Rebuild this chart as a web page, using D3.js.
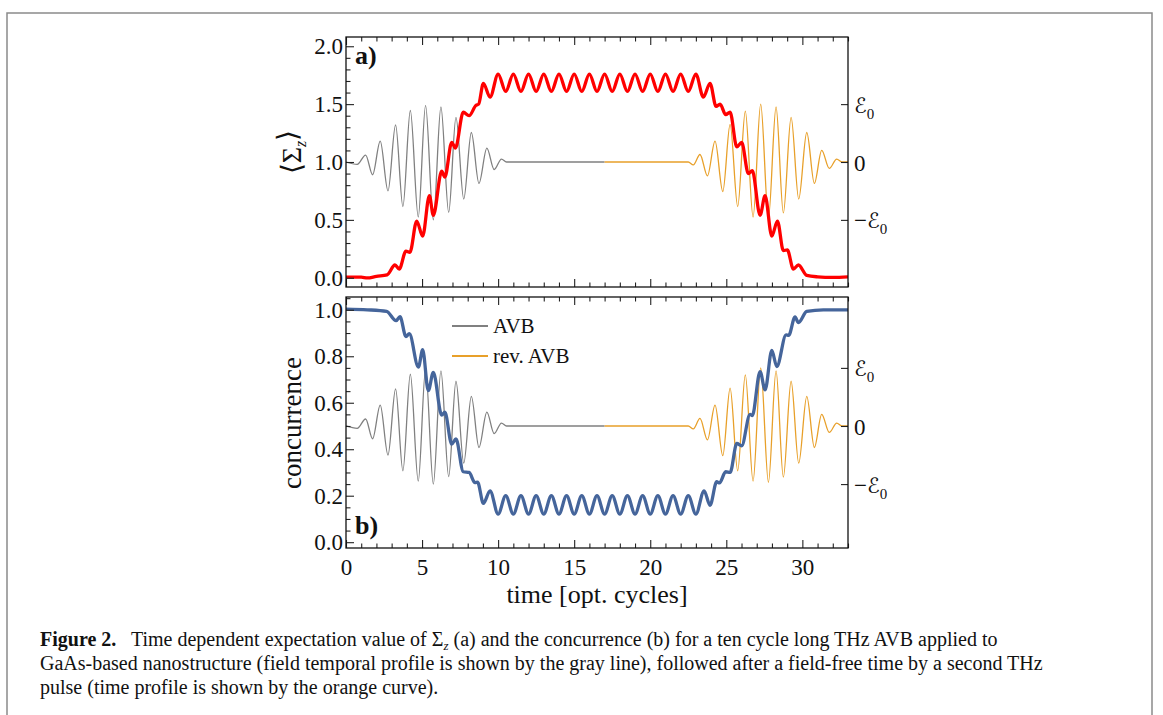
<!DOCTYPE html>
<html>
<head>
<meta charset="utf-8">
<script src="https://cdn.jsdelivr.net/npm/d3@7/dist/d3.min.js"></script>
<style>
  body { margin: 0; background: #fff; }
  svg text { font-family: "Liberation Serif", "DejaVu Serif", serif; fill: #111; }
</style>
</head>
<body>
<div id="chart"></div>
<script>
// time axis (optical cycles)
var timeTicks = [0, 5, 10, 15, 20, 25, 30];

// panel a) <Sigma_z>
var sigmaT = [0, 1.0, 1.4, 2.0, 2.7, 3.22, 3.5, 3.94, 4.2, 4.65, 5.04, 5.48, 5.74, 6.29, 6.5, 6.95, 7.19, 7.71, 8.09, 8.55, 8.72, 9.03, 9.47,
  10, 10.5, 11, 11.5, 12, 12.5, 13, 13.5, 14, 14.5, 15, 15.5, 16, 16.5, 17, 17.5, 18, 18.5, 19, 19.5, 20, 20.5, 21, 21.5, 22, 22.5, 23,
  23.49, 23.93, 24.33, 24.59, 24.96, 25.25, 25.69, 26.01, 26.45, 26.71, 27.22, 27.55, 27.99, 28.36, 28.75, 29.01, 29.41, 29.74, 30.29, 31.0, 32.0, 33.0];
var sigmaV = [0.005, 0.005, -0.002, 0.012, 0.025, 0.11, 0.075, 0.23, 0.22, 0.49, 0.36, 0.71, 0.54, 0.92, 0.87, 1.17, 1.12, 1.43, 1.40, 1.49, 1.50, 1.68, 1.56,
  1.76, 1.61, 1.76, 1.61, 1.76, 1.61, 1.76, 1.61, 1.76, 1.61, 1.76, 1.61, 1.76, 1.61, 1.76, 1.61, 1.76, 1.61, 1.76, 1.61, 1.76, 1.61, 1.76, 1.61, 1.76, 1.61, 1.76,
  1.56, 1.68, 1.48, 1.50, 1.41, 1.43, 1.13, 1.17, 0.90, 0.925, 0.54, 0.71, 0.36, 0.49, 0.235, 0.24, 0.075, 0.11, 0.02, 0.008, 0.003, 0.008];

// panel b) concurrence
var concT = [0, 1.4, 2.67, 3.29, 3.55, 3.94, 4.16, 4.76, 5.04, 5.41, 5.74, 6.29, 6.5, 6.95, 7.23, 7.71, 8.09, 8.48, 8.65, 9.03, 9.47,
  10, 10.5, 11, 11.5, 12, 12.5, 13, 13.5, 14, 14.5, 15, 15.5, 16, 16.5, 17, 17.5, 18, 18.5, 19, 19.5, 20, 20.5, 21, 21.5, 22, 22.5, 23,
  23.54, 23.93, 24.37, 24.55, 24.96, 25.25, 25.69, 26.01, 26.56, 26.71, 27.22, 27.55, 27.99, 28.32, 28.93, 29.1, 29.52, 29.74, 30.29, 31.38, 33];
var concV = [1.003, 1.0, 0.993, 0.953, 0.97, 0.885, 0.897, 0.753, 0.828, 0.652, 0.731, 0.547, 0.559, 0.422, 0.444, 0.303, 0.30, 0.256, 0.258, 0.167, 0.221,
  0.121, 0.20, 0.121, 0.20, 0.121, 0.20, 0.121, 0.20, 0.121, 0.20, 0.121, 0.20, 0.121, 0.20, 0.121, 0.20, 0.121, 0.20, 0.121, 0.20, 0.121, 0.20, 0.121, 0.20, 0.121, 0.20, 0.121,
  0.221, 0.159, 0.26, 0.255, 0.303, 0.30, 0.425, 0.415, 0.55, 0.545, 0.734, 0.655, 0.825, 0.756, 0.892, 0.89, 0.969, 0.945, 0.993, 1.0, 1.0];

// field of the AVB (gray) and reversed AVB (orange), in units of E0
var avbT = [0, 0.74, 1.29, 1.75, 2.25, 2.76, 3.26, 3.74, 4.23, 4.75, 5.23, 5.74, 6.24, 6.75, 7.23, 7.74, 8.24, 8.74, 9.26, 9.74, 10.22, 10.55, 17];
var avbV = [0, -0.04, 0.12, -0.22, 0.36, -0.50, 0.64, -0.77, 0.89, -0.95, 0.98, -1.0, 0.95, -0.87, 0.77, -0.64, 0.51, -0.37, 0.24, -0.13, 0.05, 0, 0];
var revT = [17, 22.5, 22.83, 23.27, 23.76, 24.26, 24.77, 25.25, 25.75, 26.25, 26.76, 27.26, 27.77, 28.27, 28.75, 29.26, 29.76, 30.29, 30.79, 31.27, 31.77, 32.26, 32.6, 33];
var revV = [0, 0, -0.05, 0.13, -0.24, 0.36, -0.51, 0.65, -0.77, 0.88, -0.95, 1.0, -0.97, 0.95, -0.88, 0.77, -0.64, 0.51, -0.37, 0.2, -0.11, 0.05, 0, 0];

var sigmaTicks = [0, 0.5, 1.0, 1.5, 2.0];
var concTicks = [0, 0.2, 0.4, 0.6, 0.8, 1.0];
var fieldTicks = [-1, 0, 1];
var legendNames = ["AVB", "rev. AVB"];

var W = 1163, H = 715;
var left = 346, right = 848;
var panelA = {top: 37, bottom: 287};
var panelB = {top: 297, bottom: 548};

var RED = "#ff0000", BLUE = "#45659b", GRAY = "#808080", ORANGE = "#e8a02a";
var TICKFONT = 23;

function zip(t, v){ return t.map(function(d, i){ return [d, v[i]]; }); }

var svg = d3.select("#chart").append("svg")
  .attr("width", W).attr("height", H);

// page frame
svg.append("rect")
  .attr("x", 7).attr("y", 13).attr("width", 1145).attr("height", 720)
  .attr("fill", "none").attr("stroke", "#8a8a8a").attr("stroke-width", 1.5);

var x = d3.scaleLinear().domain([0, 33]).range([left, right]);
var yA = d3.scaleLinear().domain([-0.08, 2.08]).range([panelA.bottom, panelA.top]);
var yB = d3.scaleLinear().domain([-0.025, 1.055]).range([panelB.bottom, panelB.top]);
var fA = d3.scaleLinear().domain([-1, 1]).range([yA(0.5), yA(1.5)]);
var fB = d3.scaleLinear().domain([-1, 1]).range([yB(0.25), yB(0.75)]);

function drawTicks(g, axis){
  g.call(axis);
  g.select(".domain").remove();
  g.selectAll(".tick line").attr("stroke", "#222").attr("stroke-width", 1.1);
}

function minorValues(lo, hi, step, majors){
  return d3.range(Math.ceil(lo / step) * step, hi, step)
    .filter(function(d){ return majors.every(function(m){ return Math.abs(m - d) > 1e-6; }); });
}

// inward ticks, major + minor, on all four sides except the right
function frame(panel, y, majors, minorStep, showX){
  var g = svg.append("g");
  var minorsX = minorValues(0, 33.5, 1, timeTicks);
  var minorsY = minorValues(y.domain()[0], y.domain()[1], minorStep, majors);

  g.append("g").attr("transform", "translate(0," + panel.bottom + ")")
    .call(drawTicks, d3.axisBottom(x).tickValues(timeTicks).tickSize(-8).tickPadding(11)
      .tickFormat(showX ? d3.format("d") : ""));
  g.append("g").attr("transform", "translate(0," + panel.bottom + ")")
    .call(drawTicks, d3.axisBottom(x).tickValues(minorsX).tickSize(-4.5).tickFormat(""));
  g.append("g").attr("transform", "translate(0," + panel.top + ")")
    .call(drawTicks, d3.axisTop(x).tickValues(timeTicks).tickSize(-8).tickFormat(""));
  g.append("g").attr("transform", "translate(0," + panel.top + ")")
    .call(drawTicks, d3.axisTop(x).tickValues(minorsX).tickSize(-4.5).tickFormat(""));
  g.append("g").attr("transform", "translate(" + left + ",0)")
    .call(drawTicks, d3.axisLeft(y).tickValues(majors).tickSize(-8).tickPadding(3).tickFormat(d3.format(".1f")));
  g.append("g").attr("transform", "translate(" + left + ",0)")
    .call(drawTicks, d3.axisLeft(y).tickValues(minorsY).tickSize(-4.5).tickFormat(""));

  g.selectAll("text").attr("font-size", TICKFONT).attr("font-family", "Liberation Serif").attr("fill", "#111");
}

function rightAxis(f){
  var g = svg.append("g").attr("transform", "translate(" + right + ",0)");
  g.call(drawTicks, d3.axisRight(f).tickValues(fieldTicks).tickSize(-7).tickFormat(""));
  g.selectAll(".tick").each(function(d){
    var t = d3.select(this).append("text")
      .attr("x", 6).attr("dy", "0.35em").attr("font-size", TICKFONT).attr("text-anchor", "start");
    if (d === 0) { t.text("0"); return; }
    if (d < 0) t.append("tspan").text("\u2212");
    t.append("tspan").attr("font-family", "DejaVu Sans").attr("font-size", 21).text("\u2130");
    t.append("tspan").attr("font-size", 15).attr("dy", "0.4em").text("0");
  });
}

function field(f){
  var l = d3.line().curve(d3.curveMonotoneX)
    .x(function(d){ return x(d[0]); }).y(function(d){ return f(d[1]); });
  svg.append("path").datum(zip(avbT, avbV)).attr("d", l)
    .attr("fill", "none").attr("stroke", GRAY).attr("stroke-width", 1.3);
  svg.append("path").datum(zip(revT, revV)).attr("d", l)
    .attr("fill", "none").attr("stroke", ORANGE).attr("stroke-width", 1.3);
}

function curve(tv, vv, y, color, clip){
  var l = d3.line().curve(d3.curveMonotoneX)
    .x(function(d){ return x(d[0]); }).y(function(d){ return y(d[1]); });
  svg.append("path").datum(zip(tv, vv)).attr("d", l)
    .attr("clip-path", "url(#" + clip + ")")
    .attr("fill", "none").attr("stroke", color).attr("stroke-width", 3.3).attr("stroke-linejoin", "round");
}

// clip for the curves
svg.append("clipPath").attr("id", "clipA").append("rect")
  .attr("x", left).attr("y", panelA.top).attr("width", right - left).attr("height", panelA.bottom - panelA.top);
svg.append("clipPath").attr("id", "clipB").append("rect")
  .attr("x", left).attr("y", panelB.top).attr("width", right - left).attr("height", panelB.bottom - panelB.top);

// panel a
field(fA);
curve(sigmaT, sigmaV, yA, RED, "clipA");

// panel b
field(fB);
curve(concT, concV, yB, BLUE, "clipB");

frame(panelA, yA, sigmaTicks, 0.1, false);
frame(panelB, yB, concTicks, 0.05, true);
rightAxis(fA);
rightAxis(fB);

[panelA, panelB].forEach(function(p){
  svg.append("rect").attr("x", left).attr("y", p.top)
    .attr("width", right - left).attr("height", p.bottom - p.top)
    .attr("fill", "none").attr("stroke", "#111").attr("stroke-width", 1.3);
});

// panel letters
svg.append("text").attr("x", 355).attr("y", 64).attr("font-size", 26).attr("font-weight", "bold").text("a)");
svg.append("text").attr("x", 355).attr("y", 534).attr("font-size", 26).attr("font-weight", "bold").text("b)");

// legend
var legY = [326, 356];
var legColors = [GRAY, ORANGE];
legendNames.forEach(function(n, i){
  svg.append("line").attr("x1", 452).attr("x2", 488).attr("y1", legY[i]).attr("y2", legY[i])
    .attr("stroke", legColors[i]).attr("stroke-width", 2);
  svg.append("text").attr("x", 493).attr("y", legY[i]).attr("dy", "0.35em")
    .attr("font-size", 21).text(n);
});

// axis titles
svg.append("text").attr("x", (left + right) / 2).attr("y", 603)
  .attr("text-anchor", "middle").attr("font-size", 26).text("time [opt. cycles]");

var ylabA = svg.append("text").attr("transform", "translate(301,152) rotate(-90)")
  .attr("text-anchor", "middle").attr("font-size", 28);
ylabA.append("tspan").attr("font-family", "DejaVu Sans").attr("font-weight", 200).text("\u27E8");
ylabA.append("tspan").text("\u03A3");
ylabA.append("tspan").attr("font-style", "italic").attr("font-size", 16).attr("dy", "0.3em").text("z");
ylabA.append("tspan").attr("font-family", "DejaVu Sans").attr("font-weight", 200).attr("dy", "-0.3em").text("\u27E9");

svg.append("text").attr("transform", "translate(301,423) rotate(-90)")
  .attr("text-anchor", "middle").attr("font-size", 27).text("concurrence");

// caption
var cap = svg.append("g").attr("font-size", 20);
var c1 = cap.append("text").attr("x", 40).attr("y", 646);
c1.append("tspan").attr("font-weight", "bold").text("Figure 2.");
c1.append("tspan").text("\u2002 Time dependent expectation value of \u03A3");
c1.append("tspan").attr("font-style", "italic").attr("font-size", 13).attr("dy", 4).text("z");
c1.append("tspan").attr("dy", -4).text(" (a) and the concurrence (b) for a ten cycle long THz AVB applied to");
cap.append("text").attr("x", 40).attr("y", 670)
  .text("GaAs-based nanostructure (field temporal profile is shown by the gray line), followed after a field-free time by a second THz");
cap.append("text").attr("x", 40).attr("y", 694)
  .text("pulse (time profile is shown by the orange curve).");
</script>
</body>
</html>
